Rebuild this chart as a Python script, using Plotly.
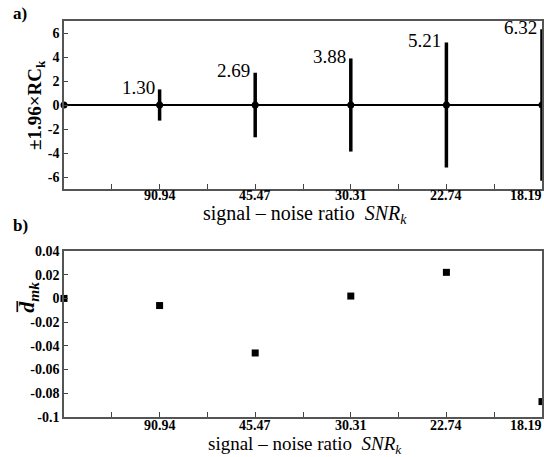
import plotly.graph_objects as go

positions = [0, 1, 2, 3, 4, 5]
snr_labels = ["", "90.94", "45.47", "30.31", "22.74", "18.19"]
rc_center = [0, 0, 0, 0, 0, 0]
rc_halfwidth = [0, 1.30, 2.69, 3.88, 5.21, 6.32]
rc_text = ["", "1.30", "2.69", "3.88", "5.21", "6.32"]
d_mk = [0.0, -0.006, -0.046, 0.002, 0.022, -0.087]

W, H = 544, 457
FONT = "Liberation Serif, Times New Roman, DejaVu Serif, serif"

def px(x):
    return x / W

def py(y):
    return 1 - y / H

fig = go.Figure()

fig.add_trace(go.Scatter(
    x=positions, y=rc_center, mode="markers",
    marker=dict(symbol="circle", size=7, color="black"),
    error_y=dict(type="data", array=rc_halfwidth, symmetric=True,
                 color="black", thickness=3.5, width=0),
    xaxis="x", yaxis="y", cliponaxis=False, showlegend=False,
))

fig.add_trace(go.Scatter(
    x=positions, y=d_mk, mode="markers",
    marker=dict(symbol="square", size=7, color="black"),
    xaxis="x2", yaxis="y2", cliponaxis=False, showlegend=False,
))

tickvals = [0.5, 1, 1.5, 2, 2.5, 3, 3.5, 4, 4.5, 5]

axis_common = dict(showline=True, linecolor="#555", linewidth=1.5, mirror=True,
                   showgrid=False, ticks="inside", tickcolor="#444", automargin=False,
                   tickfont=dict(family=FONT, size=14, color="black"))

xdom = [px(64), px(542)]
fig.update_layout(
    width=W, height=H, margin=dict(l=0, r=0, t=0, b=0, autoexpand=False),
    paper_bgcolor="white", plot_bgcolor="white",
    font=dict(family=FONT, color="black"),
    xaxis=dict(domain=xdom, range=[0, 5], anchor="y", tickmode="array",
               tickvals=tickvals, showticklabels=False, ticklen=5, zeroline=False,
               **axis_common),
    yaxis=dict(domain=[py(189), py(21)], range=[-7, 7], anchor="x",
               tickmode="array", tickvals=[6, 4, 2, 0, -2, -4, -6],
               ticktext=["<b>%d</b>" % v for v in [6, 4, 2, 0, -2, -4, -6]],
               ticklen=4, zeroline=True, zerolinecolor="black", zerolinewidth=2,
               **axis_common),
    xaxis2=dict(domain=xdom, range=[0, 5], anchor="y2", tickmode="array",
                tickvals=tickvals, showticklabels=False, ticklen=5, zeroline=False,
                **axis_common),
    yaxis2=dict(domain=[py(417), py(251)], range=[-0.1, 0.04], anchor="x2",
                tickmode="array",
                tickvals=[0.04, 0.02, 0, -0.02, -0.04, -0.06, -0.08, -0.1],
                ticktext=["<b>%s</b>" % t for t in ["0.04", "0.02", "0", "-0.02", "-0.04", "-0.06", "-0.08", "-0.1"]],
                ticklen=4, zeroline=False, **axis_common),
)

annotations = []
for i, t in enumerate(rc_text):
    if t:
        annotations.append(dict(x=positions[i], y=rc_halfwidth[i], xref="x", yref="y",
                                text=t, showarrow=False, xanchor="right", yanchor="middle",
                                xshift=-3, yshift=2, font=dict(family=FONT, size=19, color="black")))

# x tick labels for both panels
for xr, ypix in (("x", 195), ("x2", 425)):
    for i, lab in enumerate(snr_labels):
        if not lab:
            continue
        last = i == len(snr_labels) - 1
        annotations.append(dict(x=positions[i], y=py(ypix), xref=xr, yref="paper",
                                text="<b>%s</b>" % lab, showarrow=False,
                                xanchor="right" if last else "center", yanchor="middle",
                                xshift=2 if last else 0,
                                font=dict(family=FONT, size=14, color="black")))

xtitle = "signal – noise ratio  <i>SNR</i><sub><i>k</i></sub>"
annotations += [
    dict(x=px(20), y=py(13), xref="paper", yref="paper", text="<b>a)</b>", showarrow=False,
         xanchor="center", yanchor="middle", font=dict(family=FONT, size=17)),
    dict(x=px(20), y=py(225), xref="paper", yref="paper", text="<b>b)</b>", showarrow=False,
         xanchor="center", yanchor="middle", font=dict(family=FONT, size=17)),
    dict(x=px(305), y=py(214), xref="paper", yref="paper", text=xtitle, showarrow=False,
         xanchor="center", yanchor="middle", font=dict(family=FONT, size=20)),
    dict(x=px(305), y=py(445), xref="paper", yref="paper", text=xtitle, showarrow=False,
         xanchor="center", yanchor="middle", font=dict(family=FONT, size=19)),
    dict(x=px(36), y=py(105), xref="paper", yref="paper",
         text="<b>±1.96×RC</b><sub><b>k</b></sub>", showarrow=False, textangle=-90,
         xanchor="center", yanchor="middle", font=dict(family=FONT, size=19)),
    dict(x=px(28), y=py(298), xref="paper", yref="paper",
         text="<b><i>d̅</i></b><sub><b><i>mk</i></b></sub>", showarrow=False, textangle=-90,
         xanchor="center", yanchor="middle", font=dict(family=FONT, size=22)),
]
fig.update_layout(annotations=annotations)

fig.write_html("out.html", config={"displayModeBar": False},
               post_script="document.body.style.margin='0px';")
